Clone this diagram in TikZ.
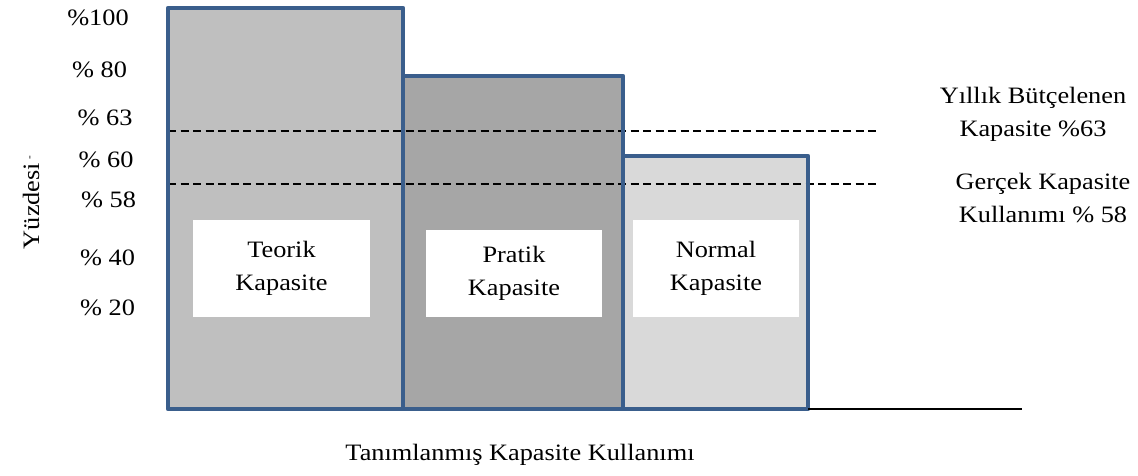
\documentclass[tikz,border=0pt]{standalone}
\usepackage{fontspec}
\setmainfont{Liberation Serif}[FakeStretch=1.12]
\definecolor{barblue}{HTML}{3A5E8C}
\definecolor{teorikfill}{HTML}{BFBFBF}
\definecolor{pratikfill}{HTML}{A6A6A6}
\definecolor{normalfill}{HTML}{D9D9D9}
\begin{document}
\begin{tikzpicture}[x=1pt,y=-1pt,
  txt/.style={font=\fontsize{23.5}{33}\selectfont, inner sep=0pt, align=center},
  wbox/.style={fill=white, inner sep=0pt, align=center, font=\fontsize{23.5}{33}\selectfont},
  barline/.style={draw=barblue, line width=4.5pt, line join=round},
  dashline/.style={draw=black, line width=1.3pt, dash pattern=on 8pt off 4.5pt}]
\useasboundingbox (0,0) rectangle (1138,476);
% bar fills
\fill[teorikfill] (168,8) rectangle (403,409);
\fill[pratikfill] (403,76) rectangle (623,409);
\fill[normalfill] (623,156) rectangle (808,409);
% dashed reference lines
\coordinate (d1s) at (168,131); \coordinate (d1e) at (878,131);
\coordinate (d2s) at (168,184); \coordinate (d2e) at (878,184);
\draw[dashline] (d1s) -- (d1e);
\draw[dashline] (d2s) -- (d2e);
% bar outlines
\draw[barline] (168,8) rectangle (403,409);
\draw[barline] (403,76) rectangle (623,409);
\draw[barline] (623,156) rectangle (808,409);
% baseline
\coordinate (b1) at (808,409); \coordinate (b2) at (1022,409);
\draw[line width=2pt] (b1) -- (b2);
% white label boxes
\node[wbox, minimum width=177pt, minimum height=97pt] (teorik) at (281.5,268.5) {Teorik\\Kapasite};
\node[wbox, minimum width=176pt, minimum height=87pt] (pratik) at (514,273.5) {Pratik\\Kapasite};
\node[wbox, minimum width=166pt, minimum height=97pt] (normal) at (716,268.5) {Normal\\Kapasite};
% y labels
\node[txt] (y100) at (98,18) {\%100};
\node[txt] (y80) at (99.5,70) {\% 80};
\node[txt] (y63) at (105,118) {\% 63};
\node[txt] (y60) at (106,160) {\% 60};
\node[txt] (y58) at (108.5,200) {\% 58};
\node[txt] (y40) at (107.5,258) {\% 40};
\node[txt] (y20) at (107.5,308) {\% 20};
% axis title
\node[txt, rotate=90] (ytitle) at (31,206) {Yüzdesi};
\node[inner sep=0pt, rotate=90, font=\fontsize{10}{10}\selectfont] (ymark) at (31,158) {-};
% right notes
\node[txt] (note1) at (1033,114) {Yıllık Bütçelenen\\Kapasite \%63};
\node[txt] (note2) at (1043,198) {Gerçek Kapasite\\Kullanımı \% 58};
% x title
\node[txt] (xtitle) at (520,455) {Tanımlanmış Kapasite Kullanımı};
\end{tikzpicture}
\end{document}
